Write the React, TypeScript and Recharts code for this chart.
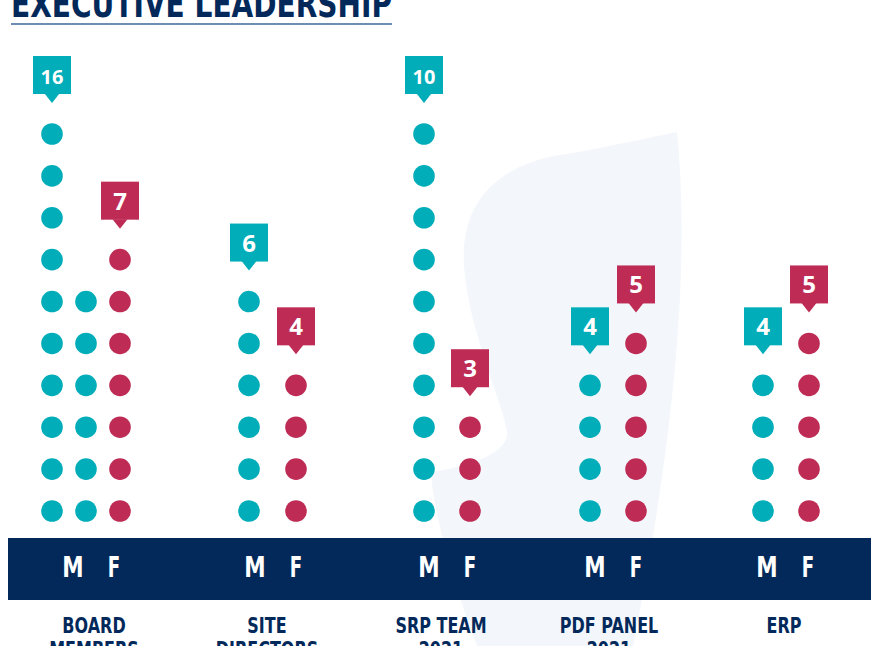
import React from 'react'
import { ScatterChart, Scatter, XAxis, YAxis } from 'recharts'

// headcount per group
const groupLines = [
  ['BOARD', 'MEMBERS'],
  ['SITE', 'DIRECTORS'],
  ['SRP TEAM', '2021'],
  ['PDF PANEL', '2021'],
  ['ERP'],
]
const maleCounts = [16, 6, 10, 4, 4]
const femaleCounts = [7, 4, 3, 5, 5]
const genderLabels = ['M', 'F']

// layout
const W = 871
const H = 646
const ROWS = 10
const groupCenter = [86, 272.5, 447, 613, 786]
const colGap = [34, 47, 46, 46, 46]
const labelCenter = [93, 275, 449, 615, 787]
const nameCenter = [94, 267, 441, 609, 784]

const TEAL = '#00adb8'
const RED = '#be2c56'
const NAVY = '#03295b'
const BOLD_FONT = '"DejaVu Sans", sans-serif'

interface Dot {
  x: number
  y: number
  value: number
}

function layoutGroup(g: number) {
  const mCols = Math.ceil(maleCounts[g] / ROWS)
  const fCols = Math.ceil(femaleCounts[g] / ROWS)
  const left = groupCenter[g] - ((mCols + fCols - 1) * colGap[g]) / 2
  return { mCols, left }
}

function buildDots(counts: number[], isFemale: boolean) {
  const dots: Dot[] = []
  const tags: Dot[] = []
  counts.forEach((n, g) => {
    const { mCols, left } = layoutGroup(g)
    const firstCol = isFemale ? mCols : 0
    for (let i = 0; i < n; i++) {
      const col = firstCol + Math.floor(i / ROWS)
      dots.push({ x: left + col * colGap[g], y: i % ROWS, value: n })
    }
    tags.push({ x: left + firstCol * colGap[g], y: Math.min(n, ROWS) - 1, value: n })
  })
  return { dots, tags }
}

const male = buildDots(maleCounts, false)
const female = buildDots(femaleCounts, true)

const DotShape = (props: any) => <circle cx={props.cx} cy={props.cy} r={10.8} fill={props.fill} />

const TagShape = (props: any) => {
  const { cx, cy, fill, payload } = props
  const label = String(payload.value)
  return (
    <g>
      <rect x={cx - 19} y={cy - 78} width={38} height={38} fill={fill} />
      <path d={`M${cx - 7.5},${cy - 40.5} L${cx + 7.5},${cy - 40.5} L${cx},${cy - 31} Z`} fill={fill} />
      <text
        x={cx}
        y={cy - 50}
        textAnchor="middle"
        fill="#fff"
        fontFamily='"Open Sans", sans-serif'
        fontWeight={700}
        fontSize={label.length > 1 ? 20 : 24}
      >
        {label}
      </text>
    </g>
  )
}

// condensed bold text: squeeze a regular bold face horizontally
const Narrow = ({ x, y, sx, size, fill, children }: any) => (
  <text
    transform={`translate(${x},${y}) scale(${sx},1)`}
    textAnchor="middle"
    fill={fill}
    fontFamily={BOLD_FONT}
    fontWeight={700}
    fontSize={size}
  >
    {children}
  </text>
)

const GroupTick = (props: any) => {
  const { x, y, index } = props
  const lines = groupLines[index] || []
  const nx = nameCenter[index] ?? x
  return (
    <g>
      {genderLabels.map((s, i) => (
        <Narrow key={s} x={x + (i === 0 ? -20 : 21)} y={y + 66} sx={s === 'M' ? 0.78 : 0.66} size={27.5} fill="#fff">
          {s}
        </Narrow>
      ))}
      {lines.map((t, i) => (
        <Narrow key={t} x={nx} y={y + 122 + i * 24} sx={0.78} size={20.5} fill={NAVY}>
          {t}
        </Narrow>
      ))}
    </g>
  )
}

export default function App() {
  return (
    <div style={{ position: 'absolute', left: 0, top: 0, width: W, height: H, overflow: 'hidden', background: '#fff' }}>
      <svg width={W} height={H} style={{ position: 'absolute', left: 0, top: 0 }}>
        <path
          d="M677,132 C690,260 676,430 633,646 L477,646 C456,590 433,515 431,472 C470,467 510,452 507,432 C504,405 468,330 464,265 C460,200 500,165 560,155 C605,148 650,137 677,132 Z"
          fill="#f3f7fb"
        />
        <rect x={8} y={538} width={W - 8} height={62} fill={NAVY} />
        <text
          x={11}
          y={17}
          fill={NAVY}
          fontFamily={BOLD_FONT}
          fontWeight={700}
          fontSize={37}
          textLength={381}
          lengthAdjust="spacingAndGlyphs"
        >
          EXECUTIVE LEADERSHIP
        </text>
        <line x1={11} x2={392} y1={24} y2={24} stroke="#6d8db3" strokeWidth={1.8} />
      </svg>
      <div style={{ position: 'absolute', left: 0, top: 0 }}>
        <ScatterChart width={W} height={H} margin={{ top: 134, right: 0, bottom: 5, left: 0 }}>
          <XAxis
            type="number"
            dataKey="x"
            domain={[0, W]}
            ticks={labelCenter}
            interval={0}
            tick={<GroupTick />}
            tickSize={0}
            tickMargin={0}
            axisLine={false}
            tickLine={false}
            height={130}
          />
          <YAxis type="number" dataKey="y" domain={[0, ROWS - 1]} hide />
          <Scatter data={male.dots} fill={TEAL} shape={<DotShape />} isAnimationActive={false} />
          <Scatter data={female.dots} fill={RED} shape={<DotShape />} isAnimationActive={false} />
          <Scatter data={male.tags} fill={TEAL} shape={<TagShape />} isAnimationActive={false} />
          <Scatter data={female.tags} fill={RED} shape={<TagShape />} isAnimationActive={false} />
        </ScatterChart>
      </div>
    </div>
  )
}
